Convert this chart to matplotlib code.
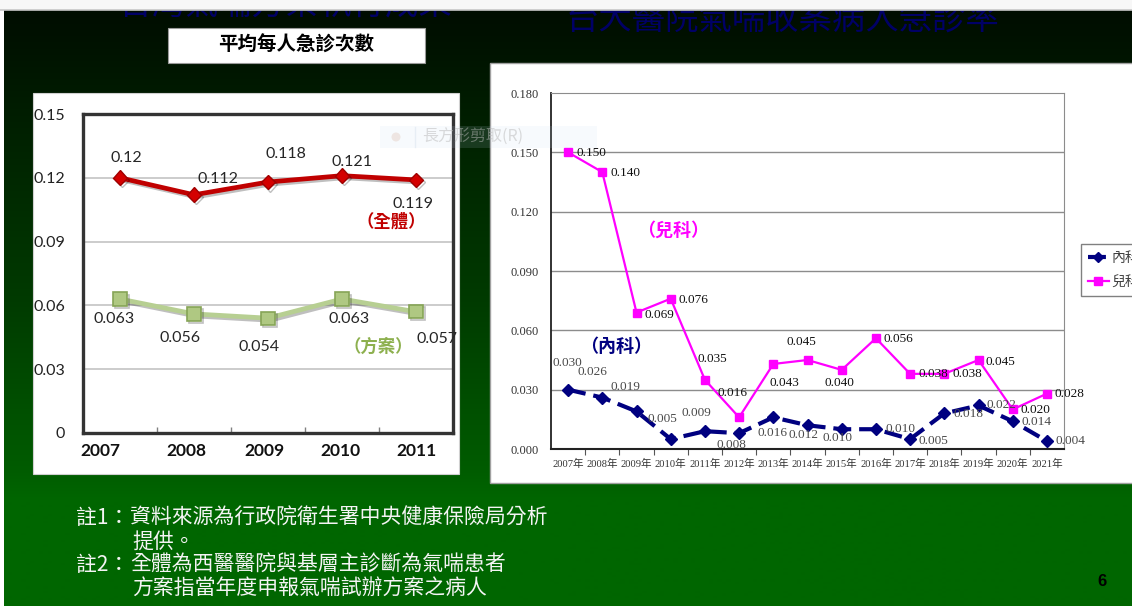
import numpy as np
import matplotlib
matplotlib.use("Agg")
import matplotlib.pyplot as plt
import matplotlib.patheffects as pe
from matplotlib.patches import Rectangle, Circle

W, H = 1132, 606
CJK = "Noto Sans CJK TC"

# ---------------- data: national asthma program (left chart) ----------------
years_a = ["2007", "2008", "2009", "2010", "2011"]
overall = [0.12, 0.112, 0.118, 0.121, 0.119]
program = [0.063, 0.056, 0.054, 0.063, 0.057]
overall_text = ["0.12", "0.112", "0.118", "0.121", "0.119"]
program_text = ["0.063", "0.056", "0.054", "0.063", "0.057"]
left_yticks = [0, 0.03, 0.06, 0.09, 0.12, 0.15]
left_yticklabels = ["0", "0.03", "0.06", "0.09", "0.12", "0.15"]

# ---------------- data: NTUH asthma ER visit rate (right chart) ----------------
years_b = ["2007年", "2008年", "2009年", "2010年", "2011年", "2012年", "2013年",
           "2014年", "2015年", "2016年", "2017年", "2018年", "2019年", "2020年",
           "2021年"]
internal = [0.030, 0.026, 0.019, 0.005, 0.009, 0.008, 0.016, 0.012, 0.010,
            0.010, 0.005, 0.018, 0.022, 0.014, 0.004]
pediatric = [0.150, 0.140, 0.069, 0.076, 0.035, 0.016, 0.043, 0.045, 0.040,
             0.056, 0.038, 0.038, 0.045, 0.020, 0.028]
right_yticks = [0.0, 0.03, 0.06, 0.09, 0.12, 0.15, 0.18]

# label placement (pixel offsets from each point, y up)
overall_off = [(6, 20), (24, 16), (18, 28), (10, 14), (-3, -24)]
program_off = [(-6, -20), (-14, -24), (-9, -29), (7, -20), (21, -27)]
year_a_dx = [-20, -8, -4, -2, 1]
ped_off = [(8, -1, "left"), (8, -1, "left"), (8, -2, "left"), (8, -1, "left"),
           (7, 21, "center"), (-7, 24, "center"), (11, -19, "center"),
           (-6, 18, "center"), (-2, -13, "center"), (8, -1, "left"),
           (8, 0, "left"), (8, 0, "left"), (7, -2, "left"), (8, -1, "left"),
           (8, 0, "left")]
int_off = [(-1, 27, "center"), (-10, 26, "center"), (-11, 24, "center"),
           (-8, 20, "center"), (-9, 18, "center"), (-8, -12, "center"),
           (-1, -16, "center"), (-4, -10, "center"), (-4, -9, "center"),
           (10, 0, "left"), (8, -2, "left"), (9, -1, "left"), (8, 0, "left"),
           (9, -1, "left"), (9, 0, "left")]


def px_rect(x0, y0, x1, y1):
    return [x0 / W, 1 - y1 / H, (x1 - x0) / W, (y1 - y0) / H]


fig = plt.figure(figsize=(W / 100, H / 100), dpi=100, facecolor="white")

# ---------------- slide background ----------------
bg = fig.add_axes([0, 0, 1, 1], zorder=0)
bg.set_xlim(0, W)
bg.set_ylim(H, 0)
bg.axis("off")

rows = np.arange(10, H + 1)
g = np.interp(rows, [10, 150, 300, 470, 500, 606],
              [0.05, 0.14, 0.23, 0.36, 0.40, 0.40])
grad = np.zeros((len(rows), 1, 3))
grad[:, 0, 1] = g
bg.imshow(grad, extent=[4, W, H, 10], aspect="auto", interpolation="bilinear",
          zorder=0)

# slide titles (partly hidden by the top strip)
bg.text(286, 4, "台灣氣喘方案執行成果", color="#000066", fontsize=24,
        family=CJK, ha="center", va="center", zorder=1)
bg.text(566, 19, "台大醫院氣喘收案病人急診率", color="#000066", fontsize=24,
        family=CJK, ha="left", va="center", zorder=1)
bg.add_patch(Rectangle((0, 0), W, 10, facecolor="#f7f7f7", edgecolor="none",
                       zorder=3))
bg.plot([0, W], [9.5, 9.5], color="#c8c8c8", lw=1.2, zorder=3)

# white box heading
bg.add_patch(Rectangle((168, 28), 257, 35, facecolor="white",
                       edgecolor="#9a9a9a", lw=0.8, zorder=2))
bg.text(296, 45.5, "平均每人急診次數", fontsize=14, fontweight="bold",
        family=CJK, ha="center", va="center", color="black", zorder=3)

# chart panels
left_panel = Rectangle((33, 93), 426, 381, facecolor="white",
                       edgecolor="#d0d0d0", lw=0.8, zorder=2)
bg.add_patch(left_panel)
bg.add_patch(Rectangle((490, 63), 660, 420, facecolor="white",
                       edgecolor="#a0a0a0", lw=1.0, zorder=2))

# footnotes
note_kw = dict(color="#f4f4f4", fontsize=15, family=CJK, va="center",
               ha="left", zorder=3)
bg.text(76, 518, "註1：", **note_kw)
bg.text(130, 518, "資料來源為行政院衛生署中央健康保險局分析", **note_kw)
bg.text(132, 542, "提供。", **note_kw)
bg.text(76, 565, "註2：", **note_kw)
bg.text(130, 565, "全體為西醫醫院與基層主診斷為氣喘患者", **note_kw)
bg.text(132, 588, "方案指當年度申報氣喘試辦方案之病人", **note_kw)
bg.text(1102, 582, "6", color="black", fontsize=12, fontweight="bold",
        family="Liberation Sans", ha="center", va="center", zorder=3)

# ---------------- left chart ----------------
axL = fig.add_axes(px_rect(83, 114, 453, 433), zorder=2)
axL.set_facecolor("white")
xa = np.arange(len(years_a))
shadow = [pe.SimpleLineShadow(offset=(1.5, -1.5), alpha=0.25), pe.Normal()]
axL.plot(xa, overall, color="#C00000", lw=3.4, marker="D", ms=7.5,
         mfc="#D40000", mec="#A00000", mew=1, zorder=4, path_effects=shadow)
axL.plot(xa, program, color="#B7CF92", lw=3.4, marker="s", ms=9.5,
         mfc="#AFC882", mec="#86A456", mew=1.2, zorder=4, path_effects=shadow)
axL.set_xlim(-0.5, 4.5)
axL.set_ylim(0, 0.15)
axL.set_yticks(left_yticks)
axL.set_yticklabels(left_yticklabels, family="Lato", fontsize=11.5,
                    color="#222222")
axL.tick_params(axis="y", length=0, pad=13)
axL.set_xticks(xa)
axL.set_xticklabels([])
axL.set_xticks(np.arange(0.5, 4.5, 1), minor=True)
axL.tick_params(axis="x", which="major", length=0)
axL.tick_params(axis="x", which="minor", direction="in", length=4,
                color="#808080", width=1)
for yv in left_yticks[1:-1]:
    axL.axhline(yv, color="#C4C4C4", lw=1.2, zorder=1)
for s in axL.spines.values():
    s.set_color("#333333")
    s.set_linewidth(2.4)

for i, lab in enumerate(years_a):
    axL.annotate(lab, xy=(i, 0), xycoords=("data", "axes fraction"),
                 xytext=(year_a_dx[i], -18), textcoords="offset pixels",
                 ha="center", va="center", fontsize=12.5, fontweight="bold",
                 family="Lato", color="#111111", annotation_clip=False)
for i, (v, t) in enumerate(zip(overall, overall_text)):
    axL.annotate(t, xy=(i, v), xytext=overall_off[i], textcoords="offset pixels",
                 ha="center", va="center", fontsize=11.5, family="Lato",
                 color="#262626", annotation_clip=False)
for i, (v, t) in enumerate(zip(program, program_text)):
    a = axL.annotate(t, xy=(i, v), xytext=program_off[i],
                     textcoords="offset pixels", ha="center", va="center",
                     fontsize=11.5, family="Lato", color="#262626",
                     annotation_clip=False)
    a.set_clip_path(left_panel)

axL.text(3.66, 0.0992, "（全體）", color="#C00000", fontsize=12.5,
         fontweight="bold", family=CJK, ha="center", va="center")
axL.text(3.49, 0.0404, "（方案）", color="#8DB04E", fontsize=12.5,
         fontweight="bold", family=CJK, ha="center", va="center")

# ---------------- right chart ----------------
axR = fig.add_axes(px_rect(551, 93, 1064, 449), zorder=2)
axR.set_facecolor("white")
xb = np.arange(len(years_b))
l_int, = axR.plot(xb, internal, color="#000080", lw=3.0,
                  linestyle=(0, (4.3, 1.9)), marker="D", ms=6.2,
                  mfc="#000080", mec="#000080", zorder=4, label="內科")
l_ped, = axR.plot(xb, pediatric, color="#FF00FF", lw=1.6, marker="s", ms=6,
                  mfc="#FF00FF", mec="#FF00FF", zorder=4, label="兒科")
axR.set_xlim(-0.5, len(years_b) - 0.5)
axR.set_ylim(0, 0.18)
axR.set_yticks(right_yticks)
axR.set_yticklabels([f"{v:.3f}" for v in right_yticks],
                    family="Liberation Serif", fontsize=9, color="#333333")
axR.tick_params(axis="y", length=0, pad=8.6)
axR.set_xticks(xb)
axR.set_xticklabels(years_b, family=["Liberation Serif", CJK], fontsize=7.6,
                    color="#333333")
axR.set_xticks(np.arange(0.5, len(years_b) - 0.5, 1), minor=True)
axR.tick_params(axis="x", which="major", length=0, pad=7)
axR.tick_params(axis="x", which="minor", direction="out", length=4,
                color="#555555", width=0.8)
for yv in right_yticks[1:-1]:
    axR.axhline(yv, color="#8c8c8c", lw=1.0, zorder=1)
axR.spines["left"].set_color("#222222")
axR.spines["bottom"].set_color("#222222")
axR.spines["left"].set_linewidth(1.3)
axR.spines["bottom"].set_linewidth(1.5)
axR.spines["top"].set_color("#8c8c8c")
axR.spines["right"].set_color("#8c8c8c")

for i, v in enumerate(pediatric):
    dx, dy, ha = ped_off[i]
    axR.annotate(f"{v:.3f}", xy=(i, v), xytext=(dx, dy),
                 textcoords="offset pixels", ha=ha, va="center", fontsize=9.5,
                 family="Liberation Serif", color="#111111", zorder=5,
                 annotation_clip=False)
for i, v in enumerate(internal):
    dx, dy, ha = int_off[i]
    axR.annotate(f"{v:.3f}", xy=(i, v), xytext=(dx, dy),
                 textcoords="offset pixels", ha=ha, va="center", fontsize=9.5,
                 family="Liberation Serif", color="#4a4a4a", zorder=5,
                 annotation_clip=False)

axR.text(3.06, 0.1107, "（兒科）", color="#FF00FF", fontsize=13,
         fontweight="bold", family=CJK, ha="center", va="center")
axR.text(1.40, 0.0516, "（內科）", color="#000080", fontsize=13,
         fontweight="bold", family=CJK, ha="center", va="center")

# legend box runs past the right edge of the slide
axR.legend(handles=[l_int, l_ped], labels=["內科", "兒科"], loc="upper left",
           bbox_to_anchor=(1081 / W, 1 - 244 / H),
           bbox_transform=fig.transFigure, borderaxespad=0, borderpad=0.5,
           handlelength=1.5, handletextpad=0.2, labelspacing=0.7,
           fancybox=False, framealpha=1, edgecolor="#808080",
           prop={"family": CJK, "size": 10}, labelcolor="#404040",
           markerscale=0.9)

# ---------------- faint floating toolbar hint ----------------
ov = fig.add_axes([0, 0, 1, 1], zorder=10)
ov.set_xlim(0, W)
ov.set_ylim(H, 0)
ov.axis("off")
ov.patch.set_alpha(0)
ov.add_patch(Rectangle((380, 126), 217, 22, facecolor="#C8DCF0",
                       edgecolor="none", alpha=0.13))
ov.add_patch(Circle((396, 137), 4.5, facecolor="#E8D8D0", edgecolor="none",
                    alpha=0.6))
ov.plot([415, 415], [127, 147], color="#e4ecf4", lw=1, alpha=0.8)
ov.text(422, 137, "長方形剪取(R)", fontsize=11.5, family=CJK, color="#b8b8b8",
        alpha=0.5, ha="left", va="center")

fig.savefig("out.png", dpi=100)
